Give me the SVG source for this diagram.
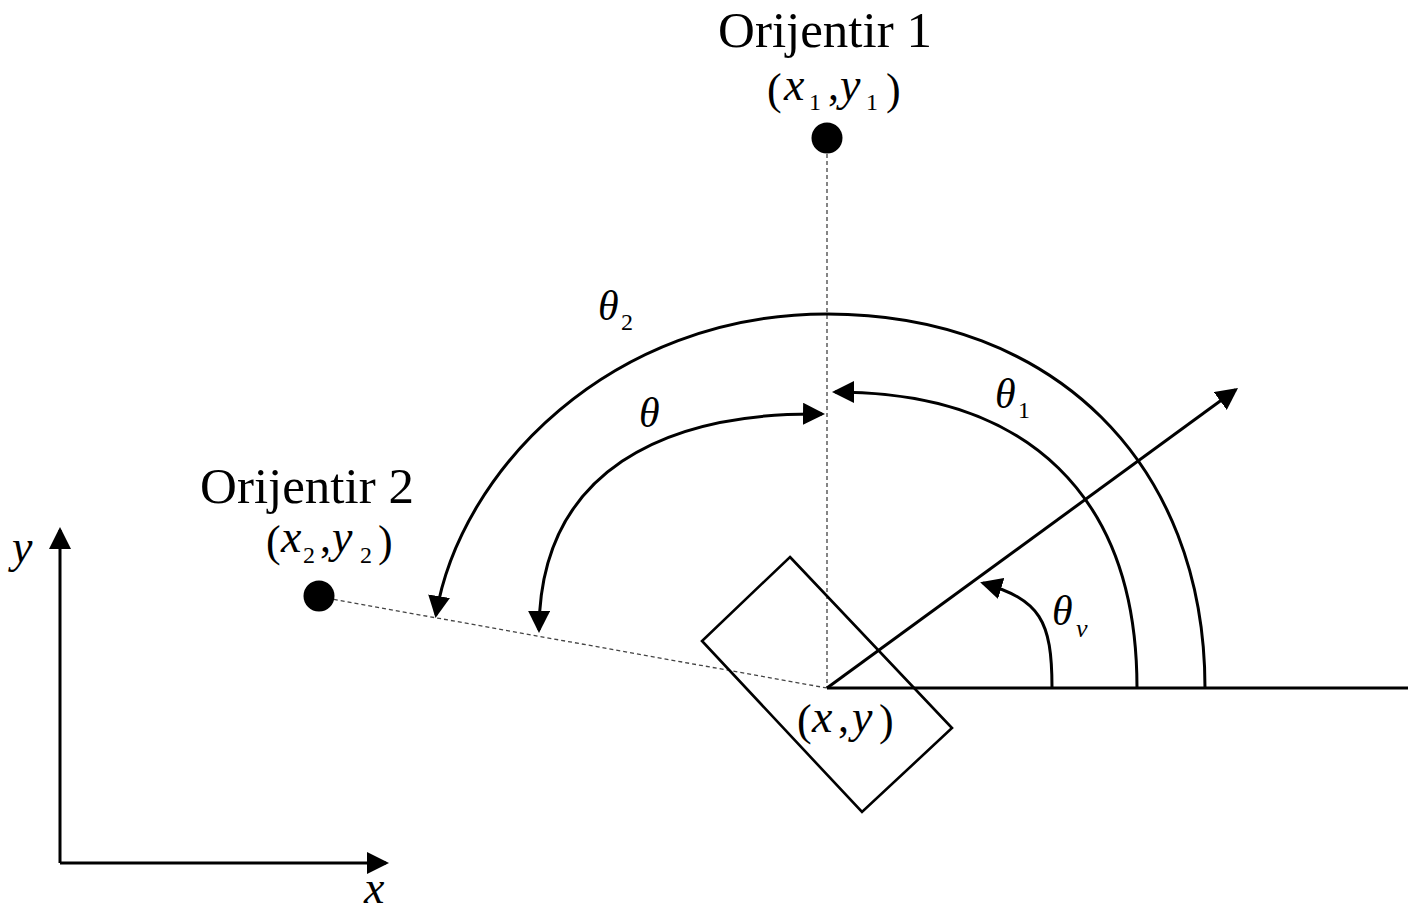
<svg xmlns="http://www.w3.org/2000/svg" width="1408" height="911" viewBox="0 0 1408 911">
<style>
.ln{fill:none;stroke:#000;stroke-width:3}
.dash{fill:none;stroke:#444;stroke-width:1.3;stroke-dasharray:4 3}
.t{font-family:"Liberation Serif",serif;fill:#000}
.i{font-family:"Liberation Serif",serif;font-style:italic;fill:#000}
</style>
<defs>
<marker id="ah" viewBox="0 0 22 22" refX="19" refY="11" markerWidth="22" markerHeight="22" markerUnits="userSpaceOnUse" orient="auto"><path d="M0,0 L22,11 L0,22 z" fill="#000"/></marker>
<marker id="ahs" viewBox="0 0 22 22" refX="19" refY="11" markerWidth="22" markerHeight="22" markerUnits="userSpaceOnUse" orient="auto-start-reverse"><path d="M0,0 L22,11 L0,22 z" fill="#000"/></marker>
</defs>
<rect width="1408" height="911" fill="#fff"/>
<g id="connectors">
<line class="dash" x1="827" y1="140" x2="827" y2="688"/>
<line class="dash" x1="320" y1="597" x2="827" y2="688"/>
<line class="ln" x1="827" y1="688" x2="1408" y2="688"/>
<path class="ln" d="M827,688 L1235.6,389.8" marker-end="url(#ah)"/>
<path class="ln" d="M1205,688 C1205,464 1054,314 827,314 C611,314 460,470 436,615" marker-end="url(#ah)"/>
<path class="ln" d="M1137,688 C1137,496 1028,392 835,392" marker-end="url(#ah)"/>
<path class="ln" d="M822,414 C665,412 540,470 539,630" marker-start="url(#ahs)" marker-end="url(#ah)"/>
<path class="ln" d="M1052,688 C1052,620 1040,600 983,583" marker-end="url(#ah)"/>
<path class="ln" d="M60,863 L60,530" marker-end="url(#ah)"/>
<path class="ln" d="M60,863 L386,863" marker-end="url(#ah)"/>
</g>
<g id="robot">
<polygon points="790,557 952,728 862,812 702,641" fill="none" stroke="#000" stroke-width="2.6"/>
<text class="t" font-size="44" x="797" y="735">(</text>
<text class="i" font-size="46" x="812" y="732">x</text>
<text class="t" font-size="44" x="838" y="732">,</text>
<text class="i" font-size="46" x="852" y="732">y</text>
<text class="t" font-size="44" x="879" y="735">)</text>
</g>
<g id="orijentir1">
<circle cx="827" cy="138" r="15.5" fill="#000"/>
<text class="t" font-size="51" x="825" y="47" text-anchor="middle">Orijentir 1</text>
<text class="t" font-size="44" x="767" y="104">(</text>
<text class="i" font-size="46" x="784" y="100">x</text>
<text class="t" font-size="24" x="809" y="110">1</text>
<text class="t" font-size="44" x="828" y="100">,</text>
<text class="i" font-size="46" x="840" y="100">y</text>
<text class="t" font-size="24" x="866" y="110">1</text>
<text class="t" font-size="44" x="886" y="104">)</text>
</g>
<g id="orijentir2">
<circle cx="319" cy="596" r="15.5" fill="#000"/>
<text class="t" font-size="51" x="307" y="503" text-anchor="middle">Orijentir 2</text>
<text class="t" font-size="44" x="266" y="556">(</text>
<text class="i" font-size="46" x="281" y="552">x</text>
<text class="t" font-size="24" x="303" y="563">2</text>
<text class="t" font-size="44" x="320" y="552">,</text>
<text class="i" font-size="46" x="332" y="552">y</text>
<text class="t" font-size="24" x="360" y="563">2</text>
<text class="t" font-size="44" x="378" y="556">)</text>
</g>
<g id="labels">
<text class="i" font-size="42" x="598" y="320">θ</text>
<text class="t" font-size="24" x="621" y="330">2</text>
<text class="i" font-size="42" x="639" y="427">θ</text>
<text class="i" font-size="42" x="995" y="408">θ</text>
<text class="t" font-size="24" x="1018" y="418">1</text>
<text class="i" font-size="42" x="1052" y="625">θ</text>
<text class="i" font-size="26" x="1076" y="637">v</text>
<text class="i" font-size="46" x="12" y="562">y</text>
<text class="i" font-size="46" x="364" y="903">x</text>
</g>
</svg>
